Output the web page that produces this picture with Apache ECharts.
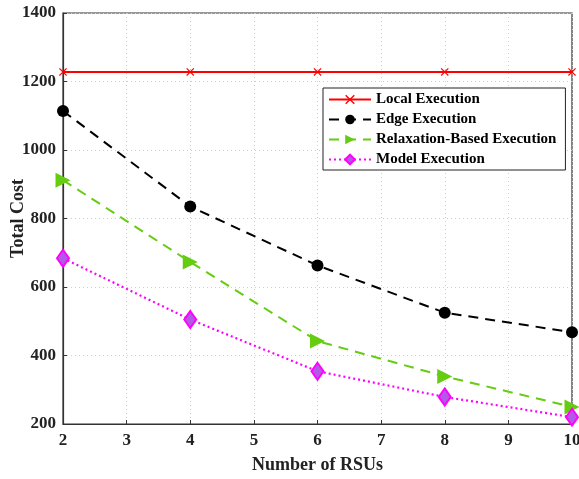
<!DOCTYPE html>
<html>
<head>
<meta charset="utf-8">
<script src="https://cdn.jsdelivr.net/npm/echarts@6/dist/echarts.min.js"></script>
<style>
html, body { margin: 0; padding: 0; background: #fff; }
#chart { width: 579px; height: 479px; }
</style>
</head>
<body>
<div id="chart"></div>
<script>
// data
const rsus = [2, 4, 6, 8, 10];
const localExec = [1228, 1228, 1228, 1228, 1228];
const edgeExec = [1114, 835, 663, 525, 468];
const relaxExec = [912, 673, 442, 339, 250];
const modelExec = [684, 505, 354, 279, 220];

const seriesNames = ['Local Execution', 'Edge Execution', 'Relaxation-Based Execution', 'Model Execution'];

const font = 'Liberation Serif';
const crossPath = 'path://M0,1 L1,0 L5,4 L9,0 L10,1 L6,5 L10,9 L9,10 L5,6 L1,10 L0,9 L4,5 Z';

const pairs = (ys) => rsus.map((x, i) => [x, ys[i]]);

let myChart = echarts.init(document.getElementById('chart'));

let option = {
  animation: false,
  backgroundColor: '#fff',
  textStyle: { fontFamily: font },
  grid: {
    left: 63, right: 7, top: 13, bottom: 55,
    outerBoundsMode: 'none', containLabel: false,
    show: true, borderColor: '#333', borderWidth: 1.2
  },
  legend: {
    orient: 'vertical',
    left: 323, top: 88,
    itemWidth: 42, itemHeight: 12,
    itemGap: 5,
    padding: [4, 9, 3, 5],
    borderColor: '#222', borderWidth: 1,
    backgroundColor: '#fff',
    textStyle: { fontFamily: font, fontWeight: 'bold', fontSize: 15, color: '#000' },
    data: seriesNames
  },
  xAxis: {
    type: 'value', min: 2, max: 10, interval: 1,
    name: 'Number of RSUs', nameLocation: 'middle', nameGap: 32, nameMoveOverlap: false,
    nameTextStyle: { fontFamily: font, fontWeight: 'bold', fontSize: 18, color: '#222' },
    axisLine: { lineStyle: { color: '#333', width: 1.2 } },
    axisTick: { inside: true, length: 4, lineStyle: { color: '#333' } },
    axisLabel: { fontFamily: font, fontWeight: 'bold', fontSize: 17, color: '#222', margin: 8, formatter: (v) => String(v) },
    splitLine: { show: true, lineStyle: { color: '#c8c8f8', type: [1, 3], width: 1 } }
  },
  yAxis: {
    type: 'value', min: 200, max: 1400, interval: 200,
    name: 'Total Cost', nameLocation: 'middle', nameGap: 36, nameMoveOverlap: false,
    nameTextStyle: { fontFamily: font, fontWeight: 'bold', fontSize: 18, color: '#222' },
    axisLine: { show: true, lineStyle: { color: '#333', width: 1.2 } },
    axisTick: { show: true, inside: true, length: 4, lineStyle: { color: '#333' } },
    axisLabel: { fontFamily: font, fontWeight: 'bold', fontSize: 17, color: '#222', margin: 7, formatter: (v) => String(v) },
    splitLine: { show: true, lineStyle: { color: '#c8c8f8', type: [1, 3], width: 1 } }
  },
  series: [
    {
      name: seriesNames[0], type: 'line', data: pairs(localExec),
      symbol: crossPath, symbolSize: 8,
      lineStyle: { color: '#ff0000', width: 2 },
      itemStyle: { color: '#ff0000' }
    },
    {
      name: seriesNames[1], type: 'line', data: pairs(edgeExec),
      symbol: 'circle', symbolSize: 12,
      lineStyle: { color: '#000', width: 2, type: [10, 7] },
      itemStyle: { color: '#000' }
    },
    {
      name: seriesNames[2], type: 'line', data: pairs(relaxExec),
      symbol: 'triangle', symbolRotate: -90, symbolSize: 15,
      lineStyle: { color: '#66cc11', width: 2, type: [10, 7] },
      itemStyle: { color: '#66cc11' }
    },
    {
      name: seriesNames[3], type: 'line', data: pairs(modelExec),
      symbol: 'diamond', symbolSize: [12, 17],
      lineStyle: { color: '#ff00ff', width: 2.2, type: [2, 3] },
      itemStyle: { color: '#b25ae6', borderColor: '#ff00ff', borderWidth: 2 }
    }
  ]
};

myChart.setOption(option);
</script>
</body>
</html>
